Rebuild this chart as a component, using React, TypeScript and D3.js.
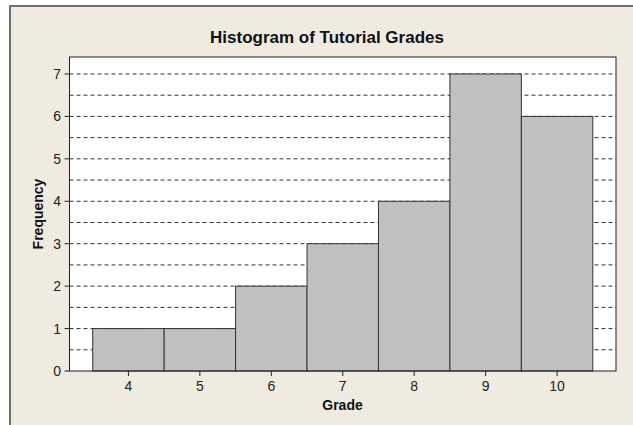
import React from "react";
import * as d3 from "d3";

const grades = [4, 5, 6, 7, 8, 9, 10];
const counts = [1, 1, 2, 3, 4, 7, 6];
const yTicks = [0, 1, 2, 3, 4, 5, 6, 7];
const gridValues = [0.5, 1, 1.5, 2, 2.5, 3, 3.5, 4, 4.5, 5, 5.5, 6, 6.5, 7];

const W = 633;
const H = 425;
const plot = { left: 69.5, top: 57, right: 616, bottom: 371 };

export default function App() {
  const x = d3.scaleLinear().domain([3.175, 10.825]).range([plot.left, plot.right]);
  const y = d3.scaleLinear().domain([0, 7.4]).range([plot.bottom, plot.top]);
  const font = "Liberation Sans, Arial, sans-serif";
  const cx = (plot.left + plot.right) / 2 - 15.5;
  return (
    <svg width={W} height={H} style={{ position: "absolute", left: 0, top: 0 }}>
      <rect x={0} y={0} width={W} height={H} fill="#ffffff" />
      <rect x={10} y={6} width={W} height={H} fill="#EFEBE1" stroke="#6e6e6e" strokeWidth={2} />
      <rect x={plot.left} y={plot.top} width={plot.right - plot.left} height={plot.bottom - plot.top} fill="#ffffff" />
      {gridValues.map((v) => (
        <line key={v} x1={plot.left} x2={plot.right} y1={y(v)} y2={y(v)} stroke="#333" strokeWidth={1} strokeDasharray="4,3" />
      ))}
      {grades.map((g, i) => (
        <rect key={g} x={x(g - 0.5)} y={y(counts[i])} width={x(g + 0.5) - x(g - 0.5)} height={y(0) - y(counts[i])} fill="#C0C0C0" stroke="#333" strokeWidth={1} />
      ))}
      <rect x={plot.left} y={plot.top} width={plot.right - plot.left} height={plot.bottom - plot.top} fill="none" stroke="#222" strokeWidth={1} />
      {yTicks.map((t) => (
        <g key={t}>
          <line x1={plot.left - 5} x2={plot.left} y1={y(t)} y2={y(t)} stroke="#222" />
          <text x={plot.left - 8.5} y={y(t)} dy="0.36em" textAnchor="end" fontFamily={font} fontSize={14} fill="#222">{t}</text>
        </g>
      ))}
      {grades.map((g) => (
        <g key={g}>
          <line x1={x(g)} x2={x(g)} y1={plot.bottom} y2={plot.bottom + 5} stroke="#222" />
          <text x={x(g)} y={391} textAnchor="middle" fontFamily={font} fontSize={14} fill="#222">{g}</text>
        </g>
      ))}
      <text x={327} y={42.5} textAnchor="middle" fontFamily={font} fontSize={17} fontWeight="bold" fill="#111">Histogram of Tutorial Grades</text>
      <text x={342.5} y={410} textAnchor="middle" fontFamily={font} fontSize={14} fontWeight="bold" fill="#111">Grade</text>
      <text transform={`translate(42.5,${(plot.top + plot.bottom) / 2}) rotate(-90)`} textAnchor="middle" fontFamily={font} fontSize={14} fontWeight="bold" fill="#111">Frequency</text>
    </svg>
  );
}
